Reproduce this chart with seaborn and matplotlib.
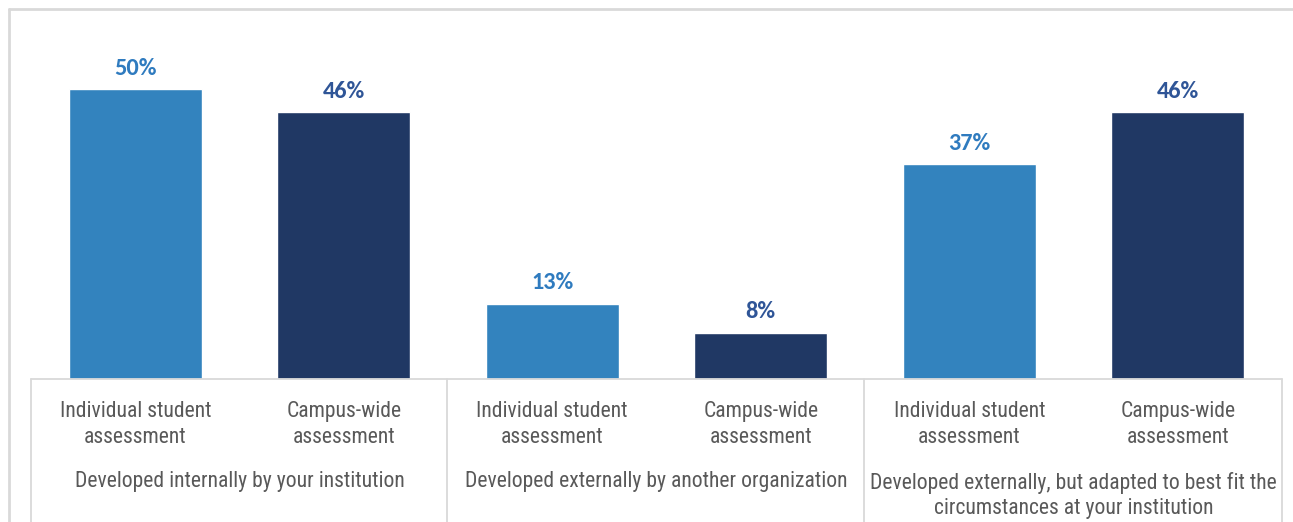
import matplotlib
matplotlib.use("Agg")
import matplotlib.pyplot as plt
from matplotlib.lines import Line2D
from matplotlib import font_manager
import seaborn as sns
import pandas as pd

# Survey shares by how the assessment was developed and its scope
groups = [
    "Developed internally by your institution",
    "Developed externally by another organization",
    "Developed externally, but adapted to best fit the\ncircumstances at your institution",
]
types = ["Individual student\nassessment", "Campus-wide\nassessment"]
individual_pct = [50, 13, 37]
campus_pct = [46, 8, 46]

light_blue = "#3383BE"
navy = "#203864"
label_light = "#2F7BBF"
label_navy = "#2F5597"
text_gray = "#595959"
rule_gray = "#D9D9D9"

rows = []
for g, (ind, cam) in enumerate(zip(individual_pct, campus_pct)):
    rows.append({"slot": f"{g}-0", "group": groups[g], "type": types[0], "value": ind})
    rows.append({"slot": f"{g}-1", "group": groups[g], "type": types[1], "value": cam})
df = pd.DataFrame(rows)
order = list(df["slot"])

sns.set_theme(style="white")

avail = {f.name for f in font_manager.fontManager.ttflist}
def pick(names):
    for n in names:
        if n in avail:
            return n
    return "DejaVu Sans"

tick_font = pick(["Liberation Sans Narrow", "Arial Narrow", "Roboto Condensed",
                  "Archivo Narrow", "PT Sans Narrow", "Liberation Sans"])
value_font = pick(["Carlito", "Open Sans", "Lato"])

W, H = 1293, 522
fig = plt.figure(figsize=(W / 100, H / 100), dpi=100)
fig.patch.set_facecolor("white")

# axes: baseline at y=379 px, 5.8 px per percentage point
left_px, right_px, base_px, top_px = 31, 1282, 379, 20
ax = fig.add_axes([left_px / W, (H - base_px) / H, (right_px - left_px) / W, (base_px - top_px) / H])
ax.set_ylim(0, (base_px - top_px) / 5.8)

sns.barplot(data=df, x="slot", y="value", hue="type", order=order,
            palette=[light_blue, navy], dodge=False, width=0.64,
            saturation=1, legend=False, ax=ax)
ax.set_xlim(-0.5, 5.5)

for container, col in zip(ax.containers, [label_light, label_navy]):
    ax.bar_label(container, fmt="%.0f%%", padding=7.5, color=col,
                 fontsize=17.5, fontweight="bold", family=value_font)

for s in ax.spines.values():
    s.set_visible(False)
ax.set_xticks([])
ax.set_yticks([])
ax.set_xlabel("")
ax.set_ylabel("")

px2pt = 0.72
tick_size = 15.6
# category labels under each bar
for i, slot in enumerate(order):
    t = types[i % 2]
    ax.annotate(t, xy=(i, 0), xycoords=("data", "axes fraction"),
                xytext=(0, -45.5 * px2pt), textcoords="offset points",
                ha="center", va="center", fontsize=tick_size, color=text_gray,
                family=tick_font, linespacing=1.26)
# group labels
for g, name in enumerate(groups):
    nlines = name.count("\n") + 1
    yc = 103 + (nlines - 1) * 13.5
    ax.annotate(name, xy=(2 * g + 0.5, 0), xycoords=("data", "axes fraction"),
                xytext=(0, -yc * px2pt), textcoords="offset points",
                ha="center", va="center", fontsize=tick_size, color=text_gray,
                family=tick_font, linespacing=1.26)

# category axis rule and group dividers
def fx(px):
    return px / W
def fy(py):
    return 1 - py / H

fig.add_artist(Line2D([fx(left_px), fx(right_px)], [fy(base_px), fy(base_px)],
                      color=rule_gray, lw=1.3))
for xp in [31, 447, 864, 1282]:
    fig.add_artist(Line2D([fx(xp), fx(xp)], [fy(base_px), fy(H + 2)],
                          color=rule_gray, lw=1.3))

# chart frame
fig.add_artist(Line2D([fx(9), fx(W + 5)], [fy(9), fy(9)], color=rule_gray, lw=2))
fig.add_artist(Line2D([fx(9), fx(9)], [fy(9), fy(H + 5)], color=rule_gray, lw=2))

fig.savefig("out.png", dpi=100, facecolor="white")
